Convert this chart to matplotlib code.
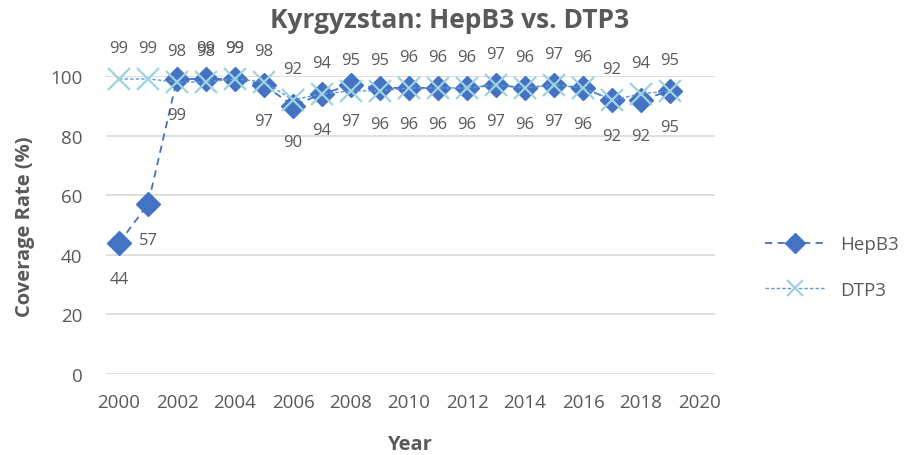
import matplotlib.pyplot as plt
from matplotlib.lines import Line2D

plt.rcParams['font.family'] = ['Open Sans', 'DejaVu Sans']

years = list(range(2000, 2020))
hepb3 = [44, 57, 99, 99, 99, 97, 90, 94, 97, 96, 96, 96, 96, 97, 96, 97, 96, 92, 92, 95]
dtp3 = [99, 99, 98, 98, 99, 98, 92, 94, 95, 95, 96, 96, 96, 97, 96, 97, 96, 92, 94, 95]
# which HepB3 labels sit above the point instead of below
hep_above = [2003, 2004]

grey = '#595959'
c_hep = '#4472C4'
c_dtp = '#9DD3E0'

fig = plt.figure(figsize=(9.06, 4.56), dpi=100)
ax = fig.add_axes([106 / 906, 1 - 375 / 456, 609 / 906, 298 / 456])

ax.plot(years, hepb3, color=c_hep, ls=(0, (4, 3)), lw=1.3, marker='D', ms=12,
        mfc=c_hep, mec=c_hep, clip_on=False, zorder=3, label='HepB3')
ax.plot(years, dtp3, color='#5B9BD5', ls=(0, (2.5, 1.5)), lw=1.0, marker='x', ms=16,
        mew=1.6, mec=c_dtp, clip_on=False, zorder=4, label='DTP3')

for x, v in zip(years, dtp3):
    ax.annotate(str(v), (x, v), xytext=(0, 31), textcoords='offset pixels',
                ha='center', va='center', fontsize=12, color=grey)
for x, v in zip(years, hepb3):
    dy = 31 if x in hep_above else -36
    ax.annotate(str(v), (x, v), xytext=(0, dy), textcoords='offset pixels',
                ha='center', va='center', fontsize=12, color=grey)

ax.set_xlim(1999.55, 2020.55)
ax.set_ylim(0, 100)
ax.set_xticks(range(2000, 2021, 2))
ax.set_yticks(range(0, 101, 20))
ax.grid(axis='y', color='#d9d9d9', lw=1.2)
ax.set_axisbelow(True)
for s in ax.spines.values():
    s.set_visible(False)
ax.tick_params(length=0, labelsize=13.5, colors=grey)
ax.tick_params(axis='x', pad=14)
ax.tick_params(axis='y', pad=17)

fig.text(450 / 906, 1 - 20 / 456, 'Kyrgyzstan: HepB3 vs. DTP3', ha='center', va='center',
         fontsize=19, fontweight='bold', color=grey)
fig.text(25 / 906, 1 - 227 / 456, 'Coverage Rate (%)', rotation=90, ha='center', va='center',
         fontsize=14.5, fontweight='bold', color=grey)
fig.text(409 / 906, 1 - 445 / 456, 'Year', ha='center', va='center',
         fontsize=14.5, fontweight='bold', color=grey)

handles = [
    Line2D([], [], color=c_hep, ls=(0, (4, 3)), lw=1.3, marker='D', ms=10, mfc=c_hep, mec=c_hep),
    Line2D([], [], color='#5B9BD5', ls=(0, (2.5, 1.5)), lw=1.0, marker='x', ms=12, mew=1.6, mec=c_dtp),
]
fig.legend(handles, ['HepB3', 'DTP3'], loc='center left', bbox_to_anchor=(748 / 906, 1 - 268 / 456),
           frameon=False, fontsize=13.5, labelcolor=grey, handlelength=3.2, labelspacing=1.45)

fig.savefig('out.png', dpi=100)
